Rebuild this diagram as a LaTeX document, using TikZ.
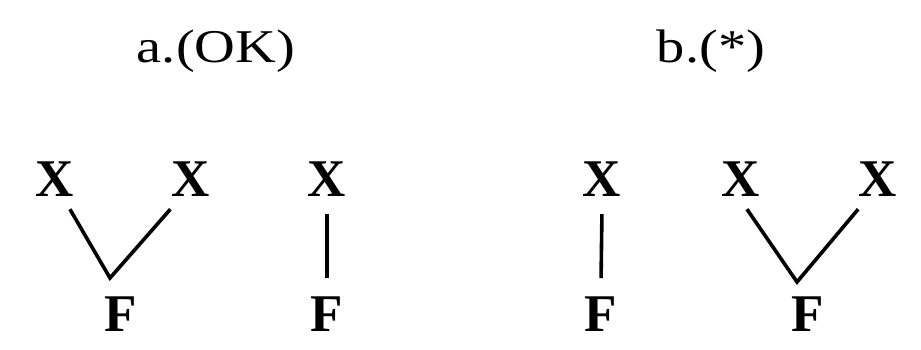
\documentclass[tikz,border=0pt]{standalone}
\usepackage{fontspec}
\setmainfont{Liberation Serif}
\begin{document}
\begin{tikzpicture}[x=1pt,y=-1pt,
  lbl/.style={anchor=base,inner sep=13pt,font=\fontsize{53}{60}\selectfont\bfseries},
  ttl/.style={anchor=base,inner sep=0pt,font=\fontsize{47}{52}\selectfont},
  edge/.style={line width=3.6pt},
  vedge/.style={line width=3.6pt,shorten <=5pt,shorten >=5pt}]
\useasboundingbox (0,0) rectangle (921,349);
% titles
\node[ttl] (ta) at (216,62) {\scalebox{1.2}[1]{a.(OK)}};
\node[ttl] (tb) at (711,62) {\scalebox{1.2}[1]{b.(*)}};
% panel a
\node[lbl] (X1) at (55,196) {X};
\node[lbl] (X2) at (191,196) {X};
\node[lbl] (F1) at (121,331) {F};
\node[lbl] (X3) at (327,196) {X};
\node[lbl] (F2) at (327,331) {F};
\coordinate (v1) at (110,278);
\draw[edge,line join=miter] (X1.296) -- (v1) -- (X2.236);
\draw[vedge] (X3.south) -- (F2.north);
% panel b
\node[lbl] (X4) at (602,196) {X};
\node[lbl] (F3) at (601,331) {F};
\node[lbl] (X5) at (741,196) {X};
\node[lbl] (X6) at (878,196) {X};
\node[lbl] (F4) at (808,331) {F};
\coordinate (v2) at (797,282);
\draw[vedge] (X4.south) -- (F3.north);
\draw[edge,line join=miter] (X5.281) -- (v2) -- (X6.237);
\end{tikzpicture}
\end{document}
